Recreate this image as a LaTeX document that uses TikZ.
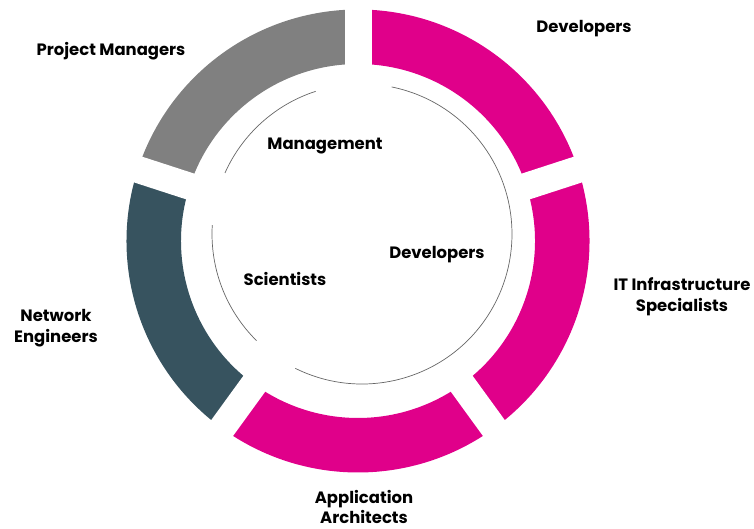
\documentclass[tikz,border=0pt]{standalone}
\usepackage{fontspec}
\setmainfont{Poppins}
\usepackage{tikz}
\usetikzlibrary{positioning}
\definecolor{devpink}{HTML}{E0008A}
\definecolor{mgmtgray}{HTML}{808080}
\definecolor{netteal}{HTML}{37535F}
\tikzset{
x=1bp, y=1bp, % one unit is one pixel of the picture
gap/.style={white, line width=27bp}, % white strip between two parts of the ring
role/.style={font=\bfseries\fontsize{16.5}{21}\selectfont, align=center}, % text of every label
inner arc/.style={draw=black!60, line width=0.7bp}, % thin arcs inside the ring
}
% one part of the ring: start angle, end angle, colour
\newcommand{\ringpart}[3]{%
  \fill[#3] ([shift={(#1:231.5)}]ring) arc[start angle=#1, end angle=#2, radius=231.5]
    -- ([shift={(#2:177)}]ring) arc[start angle=#2, end angle=#1, radius=177] -- cycle;}

\begin{document}
\begin{tikzpicture}
    \useasboundingbox (0,0) rectangle (754,529);
    \coordinate (ring) at (358,288);
    \coordinate (core) at (362,295);

    \ringpart{18}{90}{devpink}
    \ringpart{90}{162}{mgmtgray}
    \ringpart{162}{234}{netteal}
    \ringpart{234}{306}{devpink}
    \ringpart{306}{378}{devpink}
    \foreach \a in {90,18,-54,-126,162}
        \draw[gap] ([shift={(\a:170)}]ring) -- ([shift={(\a:240)}]ring);

    \draw[inner arc] ([shift={(108:150)}]core) arc[start angle=108, end angle=156, radius=150];
    \draw[inner arc] ([shift={(-116.4:150)}]core) arc[start angle=-116.4, end angle=78.6, radius=150];
    \draw[inner arc] ([shift={(176.6:150)}]core) arc[start angle=176.6, end angle=225.3, radius=150];

    \node[role] (pm) at (111,478) {Project Managers};
    \node[role] (dev) at (584,500) {Developers};
    \node[role] (it) at (682,232) {IT Infrastructure\\Specialists};
    \node[role] (arch) at (364,22) {Application\\Architects};
    \node[role] (net) at (56,201) {Network\\Engineers};
    \node[role] (mgmt) at (325,383) {Management};
    \node[role] (devin) at (437,274) {Developers};
    \node[role] (sci) at (285,250) {Scientists};
\end{tikzpicture}
\end{document}
